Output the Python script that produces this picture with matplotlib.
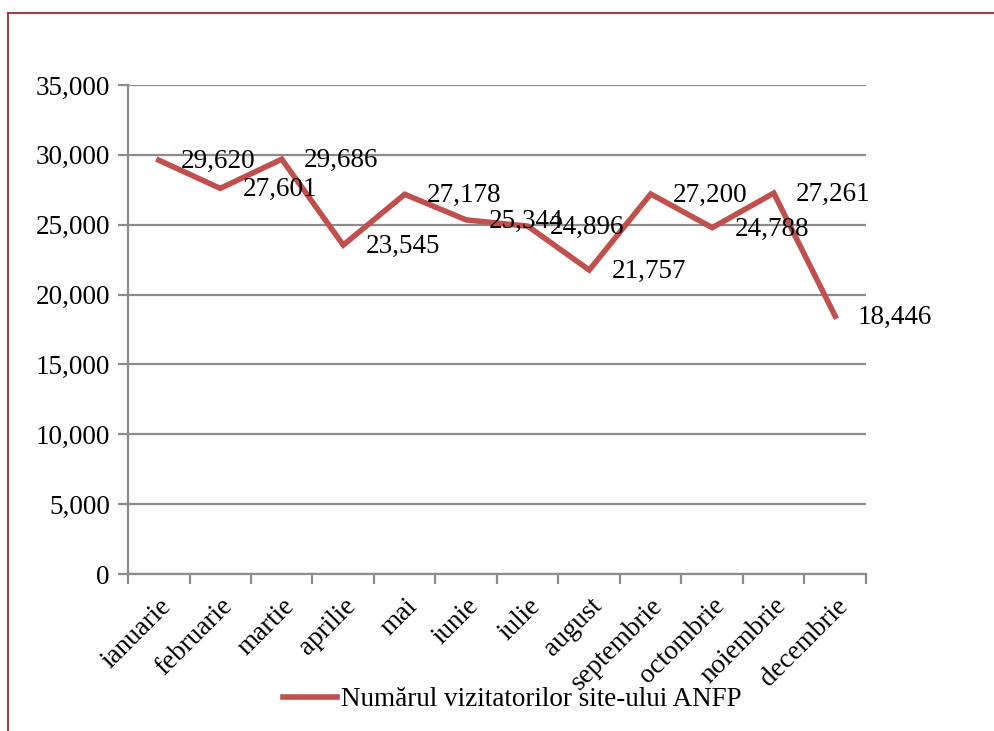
import matplotlib
matplotlib.use("Agg")
import matplotlib.pyplot as plt
from matplotlib.lines import Line2D
from matplotlib.ticker import FuncFormatter, MultipleLocator
import numpy as np

plt.rcParams['font.family'] = ['Liberation Serif', 'DejaVu Serif']

# monthly visitors of the ANFP site
months = ["ianuarie", "februarie", "martie", "aprilie", "mai", "iunie",
          "iulie", "august", "septembrie", "octombrie", "noiembrie", "decembrie"]
visitors = [29620, 27601, 29686, 23545, 27178, 25344,
            24896, 21757, 27200, 24788, 27261, 18446]
series_name = "Numărul vizitatorilor site-ului ANFP"

W, H = 995, 731
fig = plt.figure(figsize=(W / 100, H / 100), dpi=100)
ax = fig.add_axes([128 / W, 1 - 574 / H, (866 - 128) / W, (574 - 85) / H])

x = np.arange(len(months))
line_col = "#C0504D"
grid_col = "#8C8C8C"
fs = 19.5

ax.plot(x, visitors, color=line_col, lw=4, solid_joinstyle="miter",
        label=series_name, zorder=3)

for xi, v in zip(x, visitors):
    ax.annotate(f"{v:,}", (xi, v), xytext=(16, -1), textcoords="offset points",
                ha="left", va="center", fontsize=fs, color="black", zorder=4)

ax.set_xlim(-0.5, len(months) - 0.5)
ax.set_ylim(0, 35000)
ax.yaxis.set_major_locator(MultipleLocator(5000))
ax.yaxis.set_major_formatter(FuncFormatter(lambda v, p: f"{int(v):,}"))
ax.grid(axis="y", color=grid_col, lw=1.6)
ax.set_axisbelow(True)

ax.set_xticks(x)
ax.set_xticks(np.arange(-0.5, len(months)), minor=True)
ax.set_xticklabels(months, rotation=45, ha="right", va="top",
                   rotation_mode="anchor", fontsize=fs)
ax.tick_params(axis="x", which="major", length=0, pad=14)
ax.tick_params(axis="x", which="minor", length=7, width=1.6, color=grid_col)
ax.tick_params(axis="y", length=7, width=1.6, color=grid_col, labelsize=fs, pad=6)

for s in ["top", "right"]:
    ax.spines[s].set_visible(False)
for s in ["left", "bottom"]:
    ax.spines[s].set_color(grid_col)
    ax.spines[s].set_linewidth(1.6)

ax.legend(loc="center", bbox_to_anchor=(0.515, 1 - 700 / H),
          bbox_transform=fig.transFigure, frameon=False, fontsize=fs,
          handlelength=2.0, handletextpad=0.15)

# outer chart frame (only top and left edges visible)
frame_col = "#A0403E"
fig.add_artist(Line2D([8 / W, 8 / W], [0, 1 - 13 / H], color=frame_col,
                      lw=1.5, transform=fig.transFigure))
fig.add_artist(Line2D([8 / W, 1], [1 - 13 / H, 1 - 13 / H], color=frame_col,
                      lw=1.5, transform=fig.transFigure))

fig.savefig("out.png", dpi=100)
